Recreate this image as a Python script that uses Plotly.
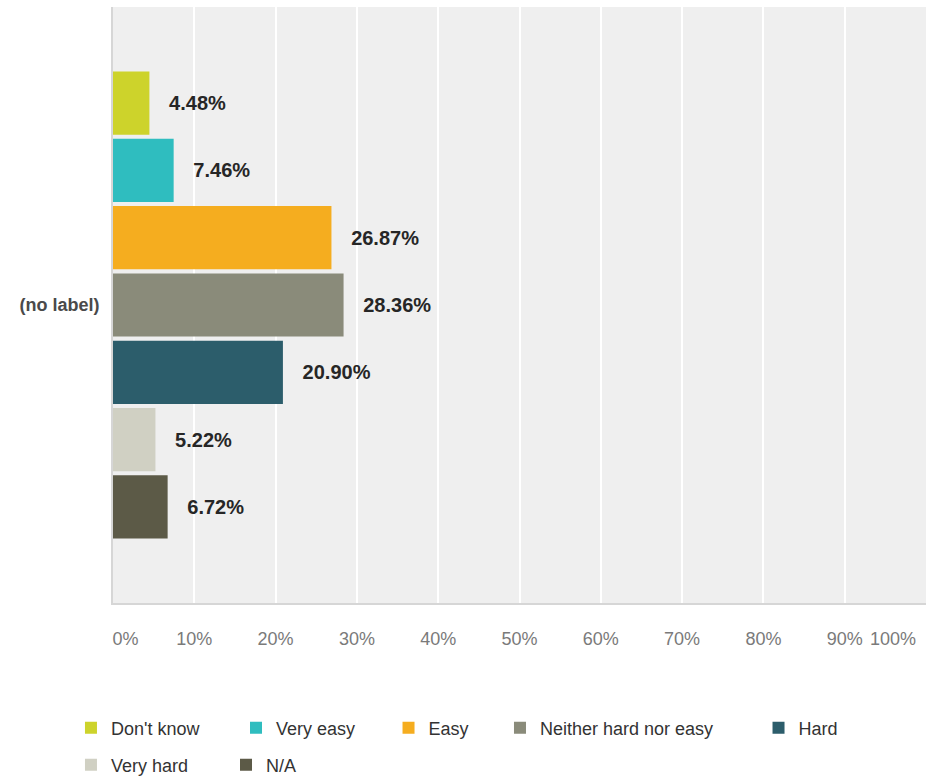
import plotly.graph_objects as go

category = ["(no label)"]
series_names = ["Don't know", "Very easy", "Easy", "Neither hard nor easy", "Hard", "Very hard", "N/A"]
series_values = [4.48, 7.46, 26.87, 28.36, 20.90, 5.22, 6.72]
series_colors = ["#cdd32b", "#2fbdbf", "#f5ad1f", "#8a8b7a", "#2c5d6b", "#d0d0c3", "#5c5a47"]
tick_values = [0, 10, 20, 30, 40, 50, 60, 70, 80, 90, 100]
tick_labels = ["0%", "10%", "20%", "30%", "40%", "50%", "60%", "70%", "80%", "90%", "100%"]

# legend placement (paper coords) for each entry, two rows
legend_x = [-0.0517, 0.1513, 0.3389, 0.4760, 0.7940, -0.0517, 0.1390]
legend_y = [-0.2097, -0.2097, -0.2097, -0.2097, -0.2097, -0.2718, -0.2718]

NB = "\u00a0"
fig = go.Figure()
for i, (name, val, col) in enumerate(zip(series_names, series_values, series_colors)):
    fig.add_trace(go.Bar(
        x=[val], y=category, name=name, orientation="h",
        marker=dict(color=col, line=dict(width=0)),
        text=[val], texttemplate=NB * 3 + "%{x:.2f}%",
        textposition="outside", constraintext="none", cliponaxis=False,
        textfont=dict(family="Liberation Sans", size=20, color="#262626", weight="bold"),
        legend="legend" if i == 0 else f"legend{i+1}",
        hoverinfo="x+name",
    ))

# invisible helper so the secondary (label-only) x axis gets drawn
fig.add_trace(go.Scatter(x=[tick_values[-1]], y=category, xaxis="x2", mode="markers",
                         marker=dict(opacity=0), hoverinfo="skip", showlegend=False))

# first label nudged right of the axis; last label drawn right-aligned at the edge (secondary axis)
ticktext = list(tick_labels)
ticktext[0] = NB * 5 + ticktext[0]
last_label = ticktext[-1]
ticktext[-1] = ""

tickfont = dict(family="Liberation Sans", size=18, color="#7a7a7a")
layout = dict(
    width=930, height=776,
    margin=dict(l=113, r=4, t=7, b=173, autoexpand=False),
    paper_bgcolor="white", plot_bgcolor="#efefef",
    barmode="group", bargap=0.21, bargroupgap=0.06,
    font=dict(family="Liberation Sans", size=18, color="#333"),
    xaxis=dict(range=[0, 100], tickvals=tick_values, ticktext=ticktext,
               showgrid=True, gridcolor="white", gridwidth=2, zeroline=False,
               showline=True, linecolor="#d6d6d6", linewidth=2,
               tickfont=dict(tickfont), ticks="",
               ticklabelstandoff=18, fixedrange=True),
    xaxis2=dict(overlaying="x", anchor="y", side="bottom", range=[0, 100],
                tickvals=[tick_values[-1]], ticktext=[last_label + NB * 2],
                ticklabelposition="outside left", showgrid=False, zeroline=False,
                showline=False, ticks="", tickfont=dict(tickfont),
                ticklabelstandoff=23, fixedrange=True),
    yaxis=dict(autorange="reversed", showgrid=False, zeroline=False,
               showline=True, linecolor="#d6d6d6", linewidth=2, ticks="",
               tickfont=dict(size=18, color="#4a4a4a", weight="bold"),
               ticklabelstandoff=8, fixedrange=True),
    showlegend=True,
)
for i in range(len(series_names)):
    key = "legend" if i == 0 else f"legend{i+1}"
    layout[key] = dict(x=legend_x[i], y=legend_y[i], xanchor="left", yanchor="middle",
                       orientation="h", bgcolor="rgba(0,0,0,0)", borderwidth=0,
                       font=dict(family="Liberation Sans", size=18, color="#333"))
fig.update_layout(**layout)

fig.write_html("out.html")
